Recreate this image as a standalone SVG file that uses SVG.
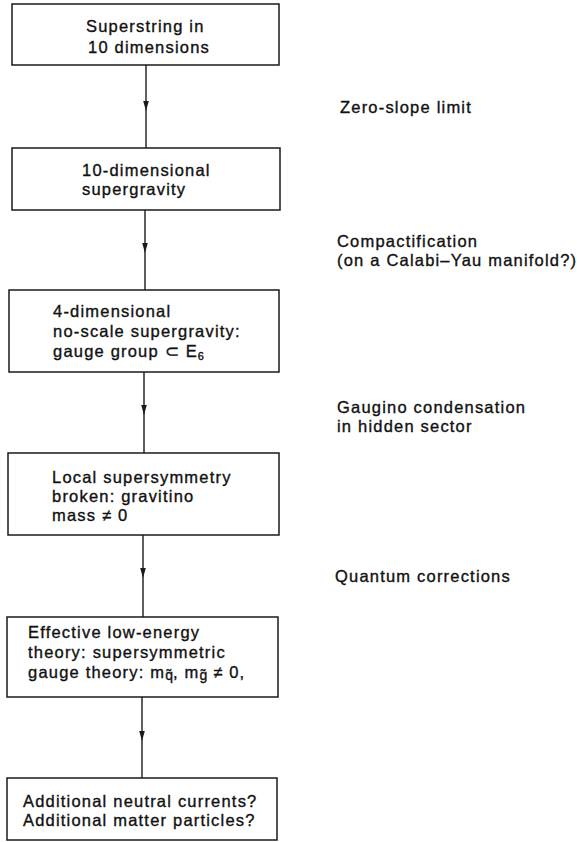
<svg xmlns="http://www.w3.org/2000/svg" width="577" height="842" viewBox="0 0 577 842">
<style>
.box{fill:#fff;stroke:#1a1a1a;stroke-width:1.5}
.t{font-family:"Liberation Sans",Arial,sans-serif;font-size:16.5px;fill:#111;stroke:#111;stroke-width:0.35px;letter-spacing:1.2px}
.conn{fill:none;stroke:#1a1a1a;stroke-width:1.4;marker-mid:url(#ah)}
</style>
<defs>
<marker id="ah" markerUnits="userSpaceOnUse" markerWidth="8" markerHeight="10" refX="4" refY="5" orient="0" viewBox="0 0 8 10">
<path d="M1.2 0 L6.8 0 L4 10 Z" fill="#1a1a1a"/>
</marker>
</defs>
<rect width="577" height="842" fill="#fff"/>
<g id="connectors">
<path class="conn" d="M146 65 L146 106 L146 148"/>
<path class="conn" d="M145 210 L145 248 L145 290"/>
<path class="conn" d="M144 372 L144 410 L144 453"/>
<path class="conn" d="M143 535 L143 573 L143 617"/>
<path class="conn" d="M142 697 L142 736 L142 778"/>
</g>
<g id="n1">
<rect class="box" x="12" y="4" width="267" height="61"/>
<text class="t" x="86" y="32">Superstring in</text>
<text class="t" x="88" y="53">10 dimensions</text>
</g>
<g id="n2">
<rect class="box" x="12" y="148" width="268" height="62"/>
<text class="t" x="82" y="176">10-dimensional</text>
<text class="t" x="82" y="195">supergravity</text>
</g>
<g id="n3">
<rect class="box" x="9" y="290" width="270" height="82"/>
<text class="t" x="53" y="317">4-dimensional</text>
<text class="t" x="53" y="337">no-scale supergravity:</text>
<text class="t" x="53" y="357">gauge group ⊂ E<tspan font-size="11" dy="3">6</tspan></text>
</g>
<g id="n4">
<rect class="box" x="8" y="453" width="271" height="82"/>
<text class="t" x="52" y="483">Local supersymmetry</text>
<text class="t" x="52" y="502">broken: gravitino</text>
<text class="t" x="52" y="521">mass ≠ 0</text>
</g>
<g id="n5">
<rect class="box" x="7" y="617" width="271" height="80"/>
<text class="t" x="28" y="638">Effective low-energy</text>
<text class="t" x="28" y="658">theory: supersymmetric</text>
<text class="t" x="28" y="678">gauge theory: m<tspan font-size="14" dy="2" letter-spacing="0">q̃</tspan><tspan dy="-2">, m</tspan><tspan font-size="14" dy="2" letter-spacing="0">g̃</tspan><tspan dy="-2"> ≠ 0,</tspan></text>
</g>
<g id="n6">
<rect class="box" x="7" y="778" width="270" height="62"/>
<text class="t" x="23" y="807">Additional neutral currents?</text>
<text class="t" x="23" y="826">Additional matter particles?</text>
</g>
<g id="labels">
<text class="t" x="340" y="113">Zero-slope limit</text>
<text class="t" x="337" y="247">Compactification</text>
<text class="t" x="337" y="266">(on a Calabi–Yau manifold?)</text>
<text class="t" x="337" y="413">Gaugino condensation</text>
<text class="t" x="337" y="432">in hidden sector</text>
<text class="t" x="335" y="582">Quantum corrections</text>
</g>
</svg>
